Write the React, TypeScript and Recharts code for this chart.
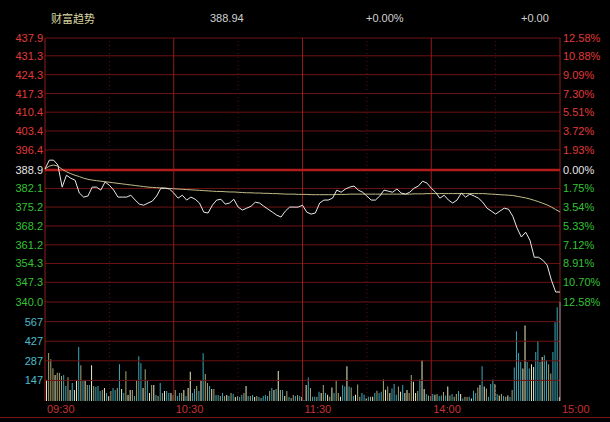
import {
  Bar,
  BarChart,
  Cell,
  ComposedChart,
  Line,
  ReferenceLine,
  XAxis,
  YAxis,
} from "recharts";

// previous close, the 0.00% line
const preClose = 388.94;

const priceTicks = [
  437.9, 431.3, 424.3, 417.3, 410.4, 403.4, 396.4, 388.9, 382.1, 375.2, 368.2,
  361.2, 354.3, 347.3, 340.0,
];
const pctLabels = [
  "12.58%", "10.88%", "9.09%", "7.30%", "5.51%", "3.72%", "1.93%", "0.00%",
  "1.75%", "3.54%", "5.33%", "7.12%", "8.91%", "10.70%", "12.58%",
];
const volTicks = [147, 287, 427, 567];
const timeTicks = [0, 60, 120, 180, 240];
const timeLabels = ["09:30", "10:30", "11:30", "14:00", "15:00"];

// one point every 2 minutes, 09:30 -> 15:00
const price = [
  389.3, 392.6, 392.6, 390.8, 382.6, 387.0, 385.9, 385.2, 380.4, 378.9,
  379.3, 382.6, 382.6, 381.5, 384.5, 383.3, 381.5, 378.9, 378.9, 378.9,
  379.6, 377.8, 376.3, 375.9, 376.7, 377.4, 379.3, 382.2, 382.2, 381.9,
  380.4, 378.5, 379.6, 377.8, 378.9, 378.1, 376.7, 373.3, 373.0, 375.9,
  377.8, 378.1, 376.3, 376.7, 378.1, 375.2, 374.1, 374.8, 375.5, 377.0,
  376.7, 375.5, 374.4, 373.3, 372.2, 371.5, 373.7, 375.2, 375.2, 375.2,
  375.9, 373.3, 372.6, 373.0, 376.7, 377.8, 377.8, 378.5, 381.5, 380.7,
  381.9, 382.6, 383.0, 381.5, 380.7, 379.3, 377.8, 377.8, 379.3, 381.5,
  381.1, 380.7, 381.9, 380.4, 380.0, 380.7, 382.2, 383.0, 384.8, 384.1,
  382.2, 380.7, 378.5, 379.6, 377.8, 376.7, 377.8, 380.4, 378.9, 380.0,
  379.3, 378.5, 377.0, 374.8, 373.7, 372.6, 373.7, 374.8, 374.4, 371.8,
  367.4, 364.1, 365.9, 362.9, 356.6, 356.6, 355.5, 353.7, 348.1, 343.7,
  343.7,
];
const avgPrice = [
  389.3, 390.4, 390.8, 390.4, 389.2, 388.3, 387.6, 387.0, 386.5, 385.9,
  385.5, 385.2, 385.0, 384.8, 384.6, 384.4, 384.2, 384.0, 383.8, 383.6,
  383.4, 383.2, 383.0, 382.8, 382.6, 382.5, 382.4, 382.3, 382.2, 382.1,
  382.0, 381.9, 381.8, 381.7, 381.6, 381.5, 381.4, 381.3, 381.2, 381.1,
  381.0, 381.0, 380.9, 380.8, 380.8, 380.7, 380.6, 380.5, 380.5, 380.4,
  380.4, 380.3, 380.3, 380.2, 380.2, 380.1, 380.0, 380.0, 380.0, 379.9,
  379.9, 379.9, 379.8, 379.8, 379.8, 379.8, 379.8, 379.8, 379.9, 379.9,
  379.9, 380.0, 380.0, 380.0, 380.0, 380.0, 380.0, 380.0, 380.0, 380.0,
  380.0, 380.0, 380.0, 380.0, 380.0, 380.0, 380.1, 380.1, 380.1, 380.2,
  380.2, 380.2, 380.2, 380.2, 380.2, 380.2, 380.2, 380.2, 380.2, 380.2,
  380.2, 380.2, 380.2, 380.1, 380.0, 379.9, 379.8, 379.7, 379.6, 379.5,
  379.2, 378.9, 378.6, 378.2, 377.7, 377.2, 376.6, 376.0, 375.2, 374.3,
  373.4,
];

// one bar per minute
const volMorning = [
  149, 343, 298, 234, 185, 201, 201, 178, 185, 107,
  170, 78, 128, 78, 149, 386, 256, 142, 149, 114,
  114, 256, 107, 100, 107, 71, 78, 92, 57, 36,
  71, 92, 78, 92, 263, 85, 57, 213, 43, 78,
  78, 36, 149, 320, 270, 92, 227, 149, 57, 114,
  114, 43, 36, 128, 57, 71, 71, 57, 57, 43,
  78, 36, 57, 57, 78, 36, 92, 208, 57, 85,
  107, 71, 149, 341, 192, 128, 107, 85, 85, 43,
  43, 36, 57, 36, 43, 36, 57, 50, 28, 36,
  28, 43, 57, 107, 36, 36, 43, 28, 36, 28,
  21, 36, 43, 36, 71, 92, 78, 85, 215, 78,
  78, 36, 71, 28, 21, 43, 36, 43, 36, 28,
];
const volAfternoon = [
  7, 114, 168, 92, 30, 30, 30, 66, 57, 114,
  57, 45, 30, 97, 57, 144, 57, 30, 114, 104,
  248, 104, 97, 35, 45, 118, 30, 57, 45, 17,
  30, 30, 30, 57, 73, 57, 66, 154, 80, 104,
  57, 90, 121, 45, 104, 66, 114, 57, 78, 57,
  185, 137, 57, 71, 154, 291, 85, 50, 40, 35,
  50, 45, 50, 35, 40, 64, 40, 104, 40, 50,
  30, 50, 71, 50, 17, 30, 28, 30, 17, 73,
  57, 97, 114, 248, 104, 90, 30, 121, 154, 121,
  50, 40, 50, 35, 30, 40, 28, 78, 239, 499,
  343, 279, 232, 540, 279, 232, 263, 243, 350, 428,
  279, 315, 327, 291, 263, 197, 350, 563, 670, 28,
];
// w = pale, o = olive, c = cyan
const volKinds = [
  "wooowooocc", "owcwwcocwo", "cwocccowcw", "occocwcoww", "ococcwocwo",
  "wcocowccwo", "occowcwwcc", "ocwcoocwoc", "cocowcocwo", "ccowcocwoc",
  "occcocwcwo", "cwocoococw", "cwcoccocwo", "cwowcoowcc", "wcocwooccw",
  "cowcoccowo", "wcccowcwwo", "owwocwwcoc", "cwoccocwoc", "oocwcoocwc",
  "cowcwocccw", "cwocowcocc", "ccwwccwwcc", "cwccoocccw",
].join("");

const lineData = price.map((p, i) => ({ t: i * 2, price: p, avg: avgPrice[i] }));
const volData = [...volMorning, ...volAfternoon].map((v, i) => ({
  t: i + 0.5,
  vol: v,
  kind: volKinds[i],
}));

const kindColor: Record<string, string> = {
  w: "#ecebc4",
  o: "#a9a676",
  c: "#3ca9ba",
};

const font = "'Liberation Sans', Arial, sans-serif";
const gridRed = "#6e1313";
const lineRed = "#951a1a";

function priceColor(v: number) {
  if (Math.abs(v - preClose) < 0.05) return "#e6e6e6";
  return v > preClose ? "#e03a3a" : "#35c235";
}

function LeftTick(props: any) {
  const { x, y, payload } = props;
  return (
    <text x={x} y={y} dy={4} textAnchor="end" fontSize={11} fontFamily={font} fill={priceColor(payload.value)}>
      {payload.value.toFixed(1)}
    </text>
  );
}

function RightTick(props: any) {
  const { x, y, payload } = props;
  const idx = priceTicks.indexOf(payload.value);
  return (
    <text x={x} y={y} dy={4} textAnchor="start" fontSize={11} fontFamily={font} fill={priceColor(payload.value)}>
      {pctLabels[idx]}
    </text>
  );
}

function VolTick(props: any) {
  const { x, y, payload } = props;
  return (
    <text x={x} y={y} dy={4} textAnchor="end" fontSize={11} fontFamily={font} fill="#4bbccc">
      {payload.value}
    </text>
  );
}

function TimeTick(props: any) {
  const { x, y, payload } = props;
  const idx = timeTicks.indexOf(payload.value);
  return (
    <text x={x + 2} y={y + 12} textAnchor="start" fontSize={11} fontFamily={font} fill="#c53232">
      {timeLabels[idx]}
    </text>
  );
}

function verticalLines(yAxisId: string | number, rightColor: string) {
  return [
    ...[30, 90, 150, 210].map((t) => (
      <ReferenceLine key={"d" + t} yAxisId={yAxisId} x={t} stroke="#5a1010" strokeDasharray="1 3" />
    )),
    ...[60, 120, 180].map((t) => (
      <ReferenceLine key={"s" + t} yAxisId={yAxisId} x={t} stroke={lineRed} />
    )),
    <ReferenceLine key="left" yAxisId={yAxisId} x={0} stroke={lineRed} />,
    <ReferenceLine key="right" yAxisId={yAxisId} x={240} stroke={rightColor} />,
  ];
}

export default function App() {
  return (
    <div
      style={{
        position: "fixed",
        left: 0,
        top: 0,
        width: 610,
        height: 422,
        background: "#000",
        overflow: "hidden",
      }}
    >
      {/* header */}
      <div style={{ position: "absolute", top: 11, left: 51, fontSize: 11, color: "#d8d6a0", fontFamily: "'Noto Sans CJK SC', sans-serif", lineHeight: "14px" }}>
        财富趋势
      </div>
      <div style={{ position: "absolute", top: 11, left: 210, fontSize: 11, color: "#d0d0d0", fontFamily: font, lineHeight: "14px" }}>
        388.94
      </div>
      <div style={{ position: "absolute", top: 11, left: 366, fontSize: 11, color: "#d0d0d0", fontFamily: font, lineHeight: "14px" }}>
        +0.00%
      </div>
      <div style={{ position: "absolute", top: 11, left: 521, fontSize: 11, color: "#d0d0d0", fontFamily: font, lineHeight: "14px" }}>
        +0.00
      </div>

      {/* price panel */}
      <div style={{ position: "absolute", top: 0, left: 0 }}>
        <ComposedChart width={610} height={312} data={lineData} margin={{ top: 38, right: 0, bottom: 10, left: 0 }}>
          <XAxis dataKey="t" type="number" domain={[0, 240]} hide />
          <YAxis
            yAxisId="l"
            domain={[340, 437.9]}
            ticks={priceTicks}
            interval={0}
            width={45}
            axisLine={false}
            tickLine={false}
            tickSize={0}
            tickMargin={2}
            tick={LeftTick}
            allowDataOverflow
          />
          <YAxis
            yAxisId="r"
            orientation="right"
            domain={[340, 437.9]}
            ticks={priceTicks}
            interval={0}
            width={50}
            axisLine={false}
            tickLine={false}
            tickSize={0}
            tickMargin={3}
            tick={RightTick}
            allowDataOverflow
          />
          {priceTicks.map((v) => (
            <ReferenceLine key={v} yAxisId="l" y={v} stroke={gridRed} />
          ))}
          {verticalLines("l", lineRed)}
          <ReferenceLine yAxisId="l" y={preClose} stroke="#b51c1c" strokeWidth={2.5} />
          <Line yAxisId="l" type="linear" dataKey="avg" stroke="#c2bb8a" strokeWidth={1} dot={false} isAnimationActive={false} />
          <Line yAxisId="l" type="linear" dataKey="price" stroke="#e8e8e8" strokeWidth={1} dot={false} isAnimationActive={false} />
        </ComposedChart>
      </div>

      {/* volume panel */}
      <div style={{ position: "absolute", top: 302, left: 0 }}>
        <BarChart width={610} height={120} data={volData} margin={{ top: 0, right: 50, bottom: 0, left: 0 }}>
          <XAxis
            dataKey="t"
            type="number"
            domain={[0, 240]}
            ticks={timeTicks}
            interval={0}
            height={21}
            axisLine={false}
            tickLine={false}
            tickSize={0}
            tickMargin={0}
            tick={TimeTick}
          />
          <YAxis
            domain={[0, 707]}
            ticks={volTicks}
            interval={0}
            width={45}
            axisLine={false}
            tickLine={false}
            tickSize={0}
            tickMargin={2}
            tick={VolTick}
            allowDataOverflow
          />
          {volTicks.map((v) => (
            <ReferenceLine key={v} y={v} stroke={gridRed} />
          ))}
          {verticalLines(0, "#c99a9a")}
          <Bar dataKey="vol" barSize={1} isAnimationActive={false}>
            {volData.map((d, i) => (
              <Cell key={i} fill={kindColor[d.kind]} />
            ))}
          </Bar>
        </BarChart>
      </div>

      {/* bottom rule */}
      <div style={{ position: "absolute", top: 417, left: 0, width: 610, height: 1, background: "#7a1515" }} />
    </div>
  );
}
